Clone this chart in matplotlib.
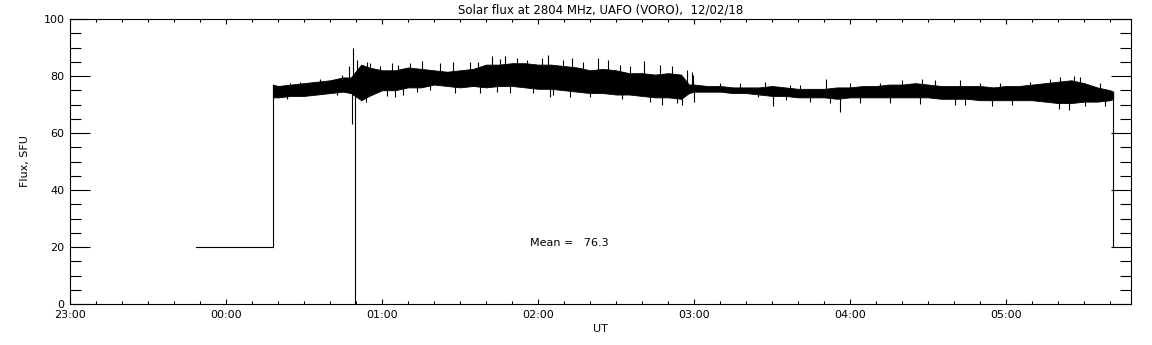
import matplotlib
matplotlib.use("Agg")
import matplotlib.pyplot as plt
from matplotlib.ticker import MultipleLocator, FixedLocator
import numpy as np

# flux envelope, minutes after 00:00 UT
env_min = [18, 20, 25, 30, 35, 40, 45, 48, 52, 55, 60, 65, 70, 75, 80, 85, 90, 95,
           100, 105, 110, 115, 120, 125, 130, 135, 140, 145, 150, 155, 160, 165, 170,
           175, 178, 180, 185, 190, 195, 200, 205, 210, 215, 220, 225, 230, 235, 240,
           245, 250, 255, 260, 265, 270, 275, 280, 285, 290, 295, 300, 305, 310, 315,
           320, 325, 330, 335, 340, 341.2]
env_hi = [77, 76.5, 77, 77.5, 78, 78.5, 79.5, 79.5, 84, 83, 82, 82, 83, 82.5, 82, 81.5, 82, 82.5,
          84, 84, 84.5, 84.5, 84, 84, 83.5, 83, 82, 82.5, 82, 81, 81, 80.5, 81,
          80.5, 77, 77, 76.5, 76.5, 76, 76, 76, 76.5, 76, 75.5, 75.5, 75.5, 76, 76,
          76.5, 76.5, 77, 77, 77.5, 77, 76.5, 76.5, 76.5, 76.5, 76, 76.5, 76.5, 77, 77.5,
          78, 78.5, 77.5, 76, 75, 74.5]
env_lo = [72.5, 72.5, 73, 73, 73.5, 74, 74.5, 74, 71.5, 73, 75, 75, 76, 76, 77, 76.5, 76, 76.5,
          76, 76.5, 76.5, 76, 75.5, 75.5, 75, 74.5, 74, 74, 73.5, 73.5, 73, 72.5, 72.5,
          72, 74, 74.5, 74.5, 74.5, 74, 74, 73.5, 73, 73, 72.5, 72.5, 72.5, 72, 72.5,
          72.5, 72.5, 72.5, 72.5, 72.5, 72.5, 72, 72, 72, 71.5, 71.5, 71.5, 71.5, 71.5, 71,
          70.5, 70.5, 71, 71, 71.5, 72]

# single spikes: (minute, value)
spike_min = [47.3, 48.5, 48.8, 50.4, 63.8, 75.4, 88, 102.3, 107.3, 123.8, 124.6, 133,
             147, 160.8, 167.7, 175.4, 179, 179.6, 207.3, 210.4, 230.8, 236, 324, 326,
             24.6, 28.5, 36.2, 44.6, 54.2, 55.4, 59.2, 66.2, 70.8,
             23.5, 42.7, 54.0, 61.9, 65, 68,
             82.3, 87.3, 93.8, 96.9, 105.4, 111.9, 115.8, 121.5,
             73.5, 78.5, 97.7, 104.2, 109.2, 118.1, 125.8,
             129.6, 137.3, 143.1, 151.5, 155.4, 166.9, 171.5, 177.3,
             132.3, 140, 152.3, 163.1, 173.5, 179.8,
             190, 197.7, 216.9, 220.8, 204.6, 215.4, 224.6, 232.3,
             240, 251.5, 260, 267.7, 272.7, 282.3, 243.8, 255.4, 266.9, 280.4, 284.2,
             290, 297.7, 309.2, 316.9, 320.8, 328.5, 336.2,
             294.6, 302.3, 320.4, 330.4, 338.1]
spike_val = [83.5, 63, 90, 85.6, 84.4, 85.3, 73.9, 87, 87, 87.4, 72.5, 86.2,
             85.6, 85.4, 69.8, 69.8, 81.5, 80.4, 78, 69.6, 78.9, 67.5, 68, 80,
             77.5, 78, 79, 80.5, 85, 84.6, 83.5, 84, 84.5,
             72, 73.5, 71, 73, 72.7, 73.5,
             84.5, 85, 85, 85, 86, 86.3, 85.6, 86.3,
             74.5, 75, 74, 74.5, 74, 74, 73.5,
             85.6, 85, 86.2, 84, 83.5, 84, 83.5, 82,
             72.7, 72.5, 72, 71, 70.5, 71,
             77.5, 77.5, 77, 76.8, 72.5, 71.5, 71, 70.5,
             77.5, 77.5, 78.5, 78.8, 78.5, 78.5, 70.5, 70.5, 70.2, 70, 69.8,
             77.5, 77.5, 78, 79, 79.5, 79.5, 77.5,
             69.5, 70, 68.5, 69.5, 69.5]

# calibration steps at 20 SFU and the dropout
cal_min = [-11.5, 18]
cal_level = 20
end_min = 341.2
dropout_min = 49.6
mean_flux = 76.3

hours = lambda m: np.asarray(m, dtype=float) / 60.0
t = hours(env_min)
hi = np.array(env_hi)
lo = np.array(env_lo)
mid = (hi + lo) / 2

fig = plt.figure(figsize=(11.52, 3.45), dpi=100)
ax = fig.add_axes([70 / 1152, 41 / 345, 1061 / 1152, 285 / 345])
lw = 0.8

# calibration level and jumps
ax.plot(hours(cal_min), [cal_level, cal_level], color='k', lw=lw)
ax.plot(hours([cal_min[1], cal_min[1]]), [cal_level, env_hi[0]], color='k', lw=lw)
ax.plot(hours([end_min, end_min]), [env_lo[-1], cal_level], color='k', lw=lw)

# noisy flux band
ax.fill_between(t, lo, hi, color='k', lw=0.6)
si = np.interp(hours(spike_min), t, mid)
ax.vlines(hours(spike_min), si, spike_val, color='k', lw=lw)
ax.vlines(hours([dropout_min]), [0], np.interp(hours([dropout_min]), t, mid), color='k', lw=lw)

ax.set_xlim(-1, 5.8)
ax.set_ylim(0, 100)
ax.xaxis.set_major_locator(FixedLocator(range(-1, 6)))
ax.xaxis.set_minor_locator(MultipleLocator(1 / 6))
ax.set_xticklabels(['23:00', '00:00', '01:00', '02:00', '03:00', '04:00', '05:00'])
ax.yaxis.set_major_locator(MultipleLocator(20))
ax.yaxis.set_minor_locator(MultipleLocator(5))

ax.tick_params(axis='both', which='both', direction='in', top=True, right=True,
               labelsize=8, width=0.8, colors='k')
ax.tick_params(axis='y', which='major', length=14.5, pad=4)
ax.tick_params(axis='y', which='minor', length=8)
ax.tick_params(axis='x', which='major', length=3.8, pad=4)
ax.tick_params(axis='x', which='minor', length=2.3)
for s in ax.spines.values():
    s.set_linewidth(0.8)

ax.set_title('Solar flux at 2804 MHz, UAFO (VORO),  12/02/18', fontsize=8.5, pad=4)
ax.set_xlabel('UT', fontsize=8, labelpad=3)
ax.set_ylabel('Flux, SFU', fontsize=8, labelpad=10)
ax.text(1.95, 21.4, 'Mean =   %.1f' % mean_flux, fontsize=8, va='center')

fig.savefig('out.png', dpi=100)
